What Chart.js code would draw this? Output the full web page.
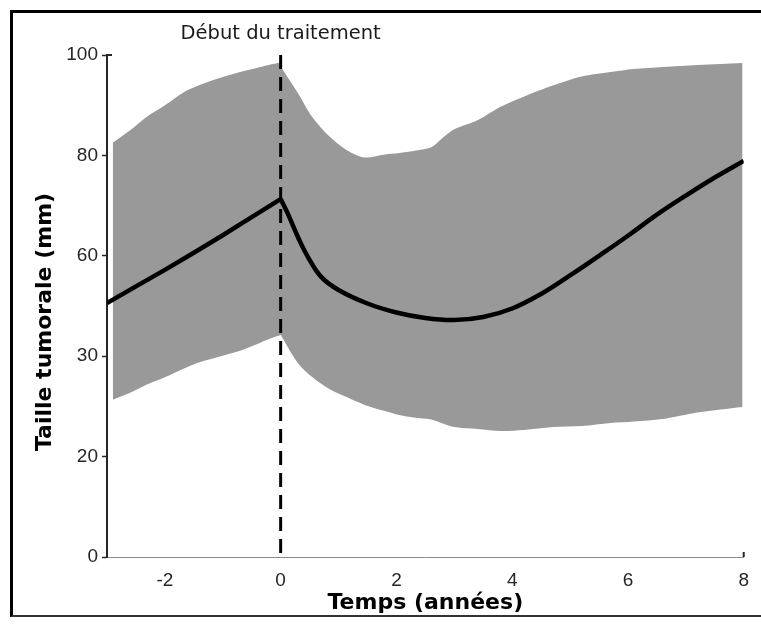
<!DOCTYPE html>
<html>
<head>
<meta charset="utf-8">
<script src="https://cdn.jsdelivr.net/npm/chart.js@4.4.1/dist/chart.umd.min.js"></script>
<style>
  html, body { margin: 0; padding: 0; background: #fff; overflow: hidden; }
  #wrap { position: relative; width: 761px; height: 625px; overflow: hidden; }
  #frame {
    position: absolute; left: 10px; top: 10px; width: 760px; height: 607px;
    border-left: 3px solid #000; border-top: 3px solid #000; border-bottom: 2px solid #333;
    box-sizing: border-box; pointer-events: none;
  }
</style>
</head>
<body>
<div id="wrap">
  <canvas id="chart"></canvas>
  <div id="frame"></div>
</div>
<script>
// Confidence band (values in axis units)
const bandTime  = [-2.9, -2.6, -2.3, -2, -1.7, -1.4, -1, -0.7, -0.35, 0, 0.02, 0.3, 0.55, 0.85, 1.15, 1.45, 1.8, 2.05, 2.3, 2.6, 2.8, 3.0, 3.4, 3.8, 4.2, 4.7, 5.2, 5.7, 6.1, 6.6, 7.2, 7.6, 7.98];
const bandUpper = [82.5, 85, 87.8, 90, 92.4, 94, 95.6, 96.6, 97.6, 98.4, 97.4, 92.4, 87.6, 83.7, 81, 79.6, 80.2, 80.5, 80.9, 81.6, 83.5, 85.2, 87, 89.7, 91.7, 93.9, 95.7, 96.6, 97.2, 97.6, 98, 98.2, 98.4];
const bandLower = [31.3, 32.7, 34.4, 35.8, 37.4, 38.8, 40.1, 41.1, 42.7, 44.2, 43.8, 38.6, 35.8, 33.4, 31.8, 30.3, 29.1, 28.3, 27.8, 27.4, 26.6, 25.9, 25.5, 25.1, 25.3, 25.9, 26.1, 26.7, 27, 27.5, 28.8, 29.4, 29.9];

// Mean tumour size, before and after treatment start
const beforeTime   = [-3, -2.5, -2, -1.5, -1, -0.5, 0];
const beforeValues = [50.6, 53.9, 57.2, 60.6, 64.1, 67.7, 71.3];
const afterTime    = [0, 0.12, 0.3, 0.47, 0.7, 1.0, 1.5, 2, 2.5, 3, 3.5, 4, 4.5, 5, 5.5, 6, 6.5, 7, 7.5, 8];
const afterValues  = [71.3, 68.5, 63.7, 59.8, 55.8, 53.2, 50.5, 48.7, 47.6, 47.2, 47.8, 49.5, 52.4, 56.1, 60, 64, 68.2, 72, 75.6, 78.9];

// Treatment start marker
const treatmentTime   = [0, 0];
const treatmentValues = [100, 0];

// Axes
const xTicks = [-2, 0, 2, 4, 6, 8];
const yTicks = [0, 20, 40, 60, 80, 100];
const yTickLabels = ["0", "20", "30", "60", "80", "100"];

const pts = (xs, ys) => xs.map((x, i) => ({ x: x, y: ys[i] }));

const textPlugin = {
    id: "texts",
    afterDraw(chart) {
        const ctx = chart.ctx;
        const area = chart.chartArea;
        const xs = chart.scales.x;
        ctx.save();
        ctx.fillStyle = "#1a1a1a";
        ctx.textAlign = "center";
        ctx.textBaseline = "middle";
        ctx.font = "19.5px 'DejaVu Sans'";
        ctx.fillText("Début du traitement", xs.getPixelForValue(0), 34);

        ctx.fillStyle = "#000";
        ctx.font = "bold 22px 'DejaVu Sans'";
        ctx.fillText("Temps (années)", (area.left + area.right) / 2, 603);

        ctx.translate(45, 322);
        ctx.rotate(-Math.PI / 2);
        ctx.fillText("Taille tumorale (mm)", 0, 0);
        ctx.restore();

        // small end caps of the axes
        ctx.save();
        ctx.strokeStyle = "#262626";
        ctx.lineWidth = 2;
        ctx.beginPath();
        ctx.moveTo(area.left, area.top);
        ctx.lineTo(area.left + 5, area.top);
        ctx.moveTo(area.right, area.bottom);
        ctx.lineTo(area.right, area.bottom - 5);
        ctx.stroke();
        ctx.restore();
    }
};

new Chart(document.getElementById("chart"), {
    type: "line",
    data: {
        datasets: [
            {
                data: pts(bandTime, bandUpper),
                borderWidth: 0,
                pointRadius: 0,
                fill: false,
                tension: 0.3,
                order: 3
            },
            {
                data: pts(bandTime, bandLower),
                borderWidth: 0,
                pointRadius: 0,
                backgroundColor: "#999999",
                fill: "-1",
                tension: 0.3,
                order: 2
            },
            {
                data: pts(treatmentTime, treatmentValues),
                borderColor: "#000",
                borderWidth: 3,
                borderDash: [14, 8],
                pointRadius: 0,
                order: 1
            },
            {
                data: pts(beforeTime, beforeValues),
                borderColor: "#000",
                borderWidth: 4.5,
                pointRadius: 0,
                cubicInterpolationMode: "monotone",
                order: 0
            },
            {
                data: pts(afterTime, afterValues),
                borderColor: "#000",
                borderWidth: 4.5,
                pointRadius: 0,
                tension: 0.4,
                order: 0
            }
        ]
    },
    options: {
        responsive: true,
        maintainAspectRatio: false,
        animation: false,
        layout: { padding: { top: 55, right: 15, bottom: 0, left: 0 } },
        plugins: {
            legend: { display: false },
            tooltip: { enabled: false }
        },
        scales: {
            x: {
                type: "linear",
                min: -3,
                max: 8,
                afterBuildTicks: s => { s.ticks = xTicks.map(v => ({ value: v })); },
                afterFit: s => { s.height = 68; },
                grid: { display: false, drawTicks: false },
                border: { display: true, color: "#8a8a8a", width: 1 },
                ticks: { color: "#262626", padding: 12, font: { family: "Liberation Sans", size: 19 } }
            },
            y: {
                min: 0,
                max: 100,
                afterBuildTicks: s => { s.ticks = yTicks.map(v => ({ value: v })); },
                afterFit: s => { s.width = 107; },
                grid: { drawOnChartArea: false, tickLength: 5, color: "#262626", tickWidth: 1.5 },
                border: { display: true, color: "#262626", width: 2 },
                ticks: {
                    color: "#262626",
                    padding: 4,
                    font: { family: "Liberation Sans", size: 19 },
                    callback: v => yTickLabels[yTicks.indexOf(v)]
                }
            }
        }
    },
    plugins: [textPlugin]
});
</script>
</body>
</html>
